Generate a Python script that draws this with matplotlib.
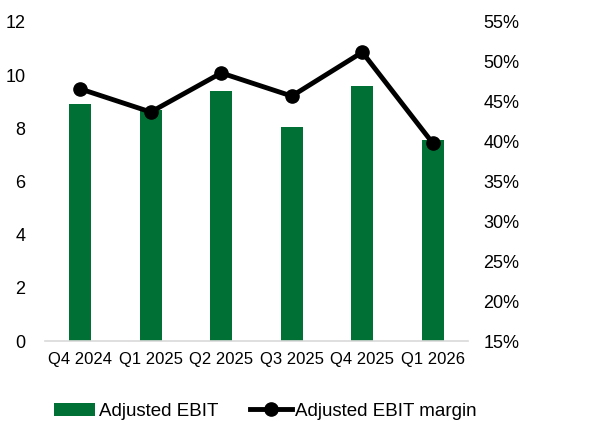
import numpy as np
import matplotlib.pyplot as plt
from matplotlib.ticker import FuncFormatter

plt.rcParams['font.family'] = ['Liberation Sans', 'DejaVu Sans']

quarters = ['Q4 2024', 'Q1 2025', 'Q2 2025', 'Q3 2025', 'Q4 2025', 'Q1 2026']
adj_ebit = [8.9, 8.7, 9.4, 8.05, 9.6, 7.55]
adj_ebit_margin = [46.6, 43.7, 48.6, 45.7, 51.2, 39.8]

green = '#007035'

fig = plt.figure(figsize=(6.11, 4.21), dpi=100)
ax = fig.add_axes([0.0737, 0.19, 0.6923, 0.758])
x = np.arange(len(quarters))

bars = ax.bar(x, adj_ebit, width=0.31, color=green, label='Adjusted EBIT', zorder=2)
ax.set_xlim(-0.5, len(quarters) - 0.5)
ax.set_ylim(0, 12)
ax.set_yticks(range(0, 13, 2))
ax.set_xticks(x)
ax.set_xticklabels(quarters, fontsize=12)
ax.tick_params(axis='y', labelsize=13, length=0, pad=14)
ax.tick_params(axis='x', length=0, pad=8)
for s in ['top', 'right', 'left']:
    ax.spines[s].set_visible(False)
ax.spines['bottom'].set_color('#d9d9d9')
ax.spines['bottom'].set_linewidth(1.2)

# margin line on the secondary axis
ax2 = ax.twinx()
line, = ax2.plot(x, adj_ebit_margin, color='black', lw=3.5, marker='o', ms=9.5,
                 label='Adjusted EBIT margin', zorder=3)
ax2.set_ylim(15, 55)
ax2.set_yticks(range(15, 56, 5))
ax2.yaxis.set_major_formatter(FuncFormatter(lambda v, p: f'{v:.0f}%'))
ax2.tick_params(axis='y', labelsize=13, length=0, pad=11)
for s in ['top', 'right', 'left', 'bottom']:
    ax2.spines[s].set_visible(False)

fig.legend([bars, line], ['Adjusted EBIT', 'Adjusted EBIT margin'],
           loc='lower left', bbox_to_anchor=(0.061, -0.037), ncol=2, frameon=False,
           fontsize=13.5, handlelength=2.2, handletextpad=0.2, columnspacing=1.7)

fig.savefig('out.png', dpi=100)
